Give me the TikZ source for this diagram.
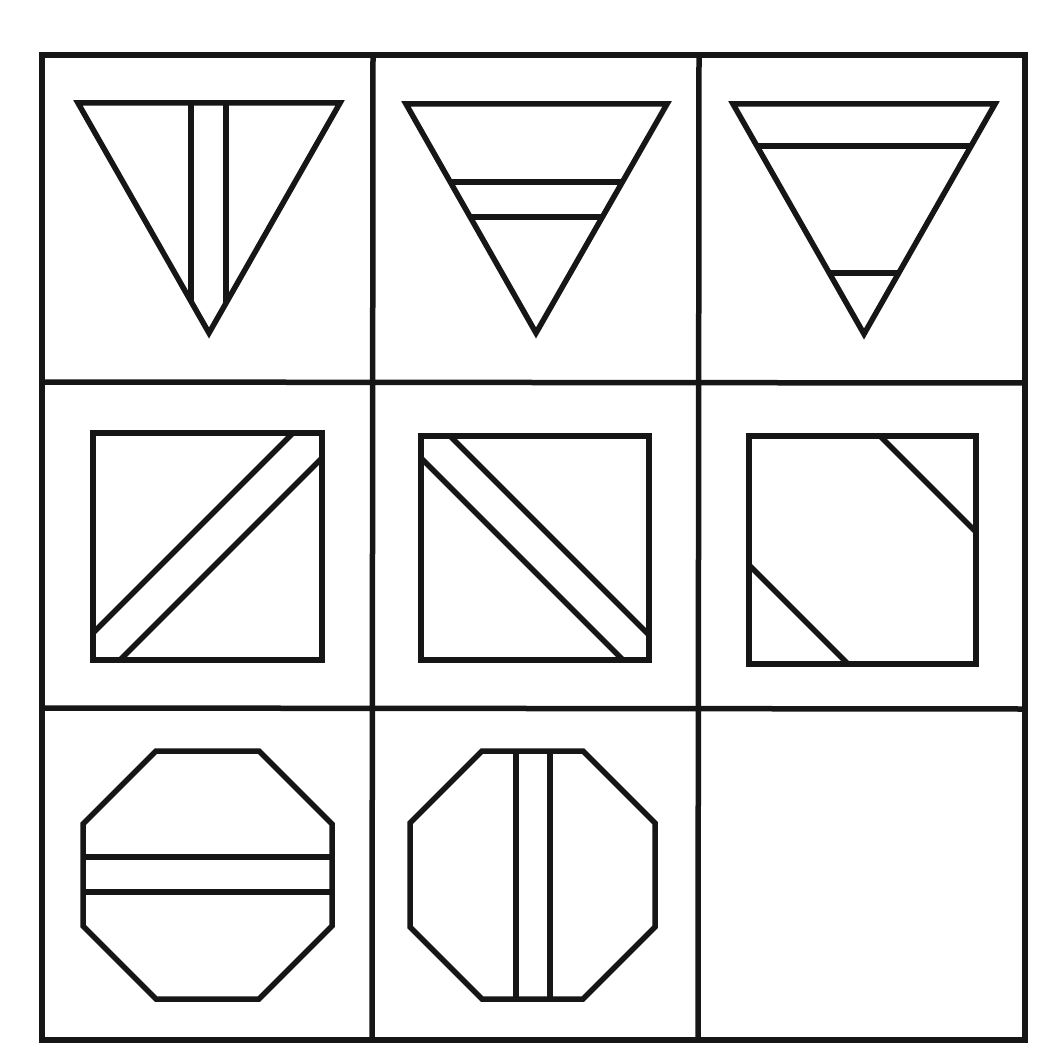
\documentclass[tikz,border=0pt]{standalone}
\begin{document}
\begin{tikzpicture}[x=1pt,y=-1pt,line join=miter]
\definecolor{ink}{RGB}{22,22,22}
\tikzset{
  gridline/.style={draw=ink,line width=5.5pt},
  outline/.style={draw=ink,line width=5.5pt},
  bar/.style={draw=ink,line width=6.5pt}
}
\useasboundingbox[fill=white] (0,0) rectangle (1048,1064);
% grid
\draw[gridline] (42,55) rectangle (1025,1040);
\draw[gridline] (373,55) -- (372,1040);
\draw[gridline] (699,55) -- (698,1040);
\draw[gridline] (42,382) -- (1025,383);
\draw[gridline] (42,708) -- (1025,709);
% cell 1: triangle with vertical bars
\begin{scope}
\clip (78,103) -- (340,103) -- (209,333) -- cycle;
\draw[bar] (191,90) -- (191,345);
\draw[bar] (226,90) -- (226,345);
\end{scope}
\draw[outline] (78,103) -- (340,103) -- (209,333) -- cycle;
% cell 2: triangle with two horizontal bars
\begin{scope}
\clip (406,104) -- (667,104) -- (536,333) -- cycle;
\draw[bar] (390,182) -- (690,182);
\draw[bar] (390,217) -- (690,217);
\end{scope}
\draw[outline] (406,104) -- (667,104) -- (536,333) -- cycle;
% cell 3: triangle with two separated bars
\begin{scope}
\clip (733,104) -- (995,104) -- (864,334) -- cycle;
\draw[bar] (710,146) -- (1010,146);
\draw[bar] (710,273) -- (1010,273);
\end{scope}
\draw[outline] (733,104) -- (995,104) -- (864,334) -- cycle;
% cell 4: square with / band
\begin{scope}
\clip (93,433) rectangle (322,660);
\draw[bar,line width=5.5pt] (326,400) -- (60,666);
\draw[bar,line width=5.5pt] (380,400) -- (100,680);
\end{scope}
\draw[outline] (93,433) rectangle (322,660);
% cell 5: square with \ band
\begin{scope}
\clip (421,436) rectangle (649,660);
\draw[bar,line width=5.5pt] (400,386) -- (700,686);
\draw[bar,line width=5.5pt] (400,437) -- (700,737);
\end{scope}
\draw[outline] (421,436) rectangle (649,660);
% cell 6: square with two corner cuts
\begin{scope}
\clip (749,436) rectangle (976,664);
\draw[bar,line width=5.5pt] (840,396) -- (1000,556);
\draw[bar,line width=5.5pt] (720,536) -- (880,696);
\end{scope}
\draw[outline] (749,436) rectangle (976,664);
% cell 7: octagon with horizontal bars
\begin{scope}
\clip (156,751) -- (259,751) -- (332,824) -- (332,926) -- (259,999) -- (156,999) -- (83,926) -- (83,824) -- cycle;
\draw[bar] (60,857) -- (360,857);
\draw[bar] (60,892) -- (360,892);
\end{scope}
\draw[outline] (156,751) -- (259,751) -- (332,824) -- (332,926) -- (259,999) -- (156,999) -- (83,926) -- (83,824) -- cycle;
% cell 8: octagon with vertical bars
\begin{scope}
\clip (482,751) -- (583,751) -- (655,823) -- (655,927) -- (583,999) -- (482,999) -- (410,927) -- (410,823) -- cycle;
\draw[bar] (516,730) -- (516,1020);
\draw[bar] (550,730) -- (550,1020);
\end{scope}
\draw[outline] (482,751) -- (583,751) -- (655,823) -- (655,927) -- (583,999) -- (482,999) -- (410,927) -- (410,823) -- cycle;
\end{tikzpicture}
\end{document}
